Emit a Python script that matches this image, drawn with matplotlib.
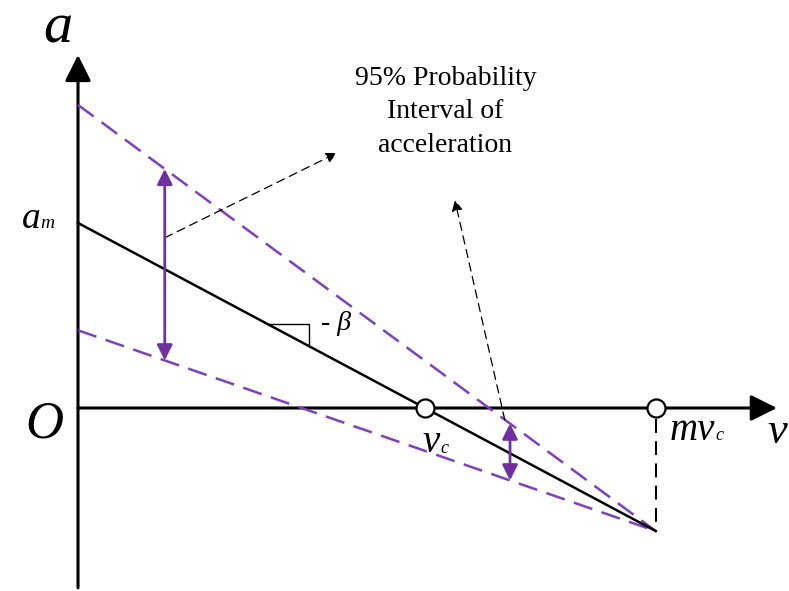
import matplotlib
matplotlib.use("Agg")
import matplotlib.pyplot as plt
import numpy as np

plt.rcParams['lines.scale_dashes'] = False

# Model quantities (normalised units: v in units of v_c, a in units of a_m)
v_c = 1.0            # critical speed
m_factor = 1.665     # maximum speed = m * v_c
a_m = 1.0            # maximum acceleration at v = 0
upper_a0 = 1.638     # upper bound of 95% interval at v = 0
lower_a0 = 0.42      # lower bound of 95% interval at v = 0
interval_v = [0.25, 1.245]   # speeds where the interval is marked

beta = a_m / v_c
mv_c = m_factor * v_c
a_end = a_m - beta * mv_c

PURPLE_DASH = '#7F3FBF'
PURPLE = '#7030A0'
SERIF = 'Liberation Serif'

fig = plt.figure(figsize=(7.89, 5.91), dpi=100)
ax = fig.add_axes([0, 0, 1, 1])
ax.axis('off')
ax.set_xlim(-0.2248, 2.049)
ax.set_ylim(-0.989, 2.205)

# axes with arrowheads
ax.annotate('', xy=(0, 1.908), xytext=(0, -0.972),
            arrowprops=dict(arrowstyle='-|>', color='black', lw=2.2,
                            mutation_scale=40, shrinkA=0, shrinkB=0))
ax.annotate('', xy=(2.014, 0), xytext=(0, 0),
            arrowprops=dict(arrowstyle='-|>', color='black', lw=2.2,
                            mutation_scale=40, shrinkA=0, shrinkB=0))

# interval bounds (dashed purple) and mean line (solid black)
v_line = np.array([0.0, mv_c])
ax.plot(v_line, [upper_a0, a_end], color=PURPLE_DASH, lw=1.8,
        linestyle=(0, (14, 7)), zorder=3)
ax.plot(v_line, [lower_a0, a_end], color=PURPLE_DASH, lw=1.8,
        linestyle=(0, (14, 7)), zorder=3)
ax.plot(v_line, [a_m, a_end], color='black', lw=1.8, zorder=4)

# vertical dashed drop at m*v_c
ax.plot([mv_c, mv_c], [-0.06, a_end], color='black', lw=1.5,
        linestyle=(0, (10, 6)), zorder=3)

# double-headed interval arrows
for v in interval_v:
    up = upper_a0 + (a_end - upper_a0) * v / mv_c
    lo = lower_a0 + (a_end - lower_a0) * v / mv_c
    ax.annotate('', xy=(v, up), xytext=(v, lo),
                arrowprops=dict(arrowstyle='<|-|>', color=PURPLE, lw=2.0,
                                mutation_scale=23, shrinkA=0, shrinkB=0),
                zorder=5)

# right-angle slope marker
v0, v1 = 0.545, 0.666
a0 = a_m - beta * v0
a1 = a_m - beta * v1
ax.plot([v0, v1, v1], [a0, a0, a1], color='black', lw=1.0, zorder=4)
ax.text(0.745, a0, '- β', family=SERIF, style='italic', fontsize=20,
        ha='center', va='center')

# circles at v_c and m*v_c
ax.plot([v_c, mv_c], [0, 0], 'o', ms=13, mfc='white', mec='black',
        mew=1.6, zorder=6)

# annotation pointers
thin = dict(arrowstyle='-|>', color='black', lw=0.9, linestyle=(0, (6, 4)),
            mutation_scale=16, shrinkA=0, shrinkB=0)
ax.annotate('', xy=(0.746, 1.378), xytext=(0.25, 0.92), arrowprops=thin)
ax.annotate('', xy=(1.086, 1.124), xytext=(1.23, -0.065), arrowprops=thin)

ax.text(1.059, 1.6, '95% Probability\nInterval of\nacceleration',
        family=SERIF, fontsize=20, ha='center', va='center',
        linespacing=1.45)

renderer = fig.canvas.get_renderer()


def label_with_sub(x, y, main, sub, size, sub_size, ha='left', sub_dy=0.0):
    t = ax.text(x, y, main, family=SERIF, style='italic', fontsize=size,
                ha=ha, va='baseline')
    bb = t.get_window_extent(renderer)
    x_right = ax.transData.inverted().transform((bb.x1, 0))[0]
    ax.text(x_right, y + sub_dy, sub, family=SERIF, style='italic',
            fontsize=sub_size, ha='left', va='baseline')


# axis and point labels
ax.text(-0.058, 1.978, 'a', family=SERIF, style='italic', fontsize=42,
        ha='center', va='baseline')
label_with_sub(-0.162, 0.973, 'a', 'm', 27, 14)
ax.text(-0.098, -0.162, 'O', family=SERIF, style='italic', fontsize=38,
        ha='center', va='baseline')
ax.text(2.014, -0.189, 'v', family=SERIF, style='italic', fontsize=32,
        ha='center', va='baseline')
label_with_sub(1.706, -0.173, 'mv', 'c', 28, 13)
label_with_sub(0.994, -0.238, 'v', 'c', 28, 13, sub_dy=-0.005)

fig.savefig('out.png', dpi=100)
